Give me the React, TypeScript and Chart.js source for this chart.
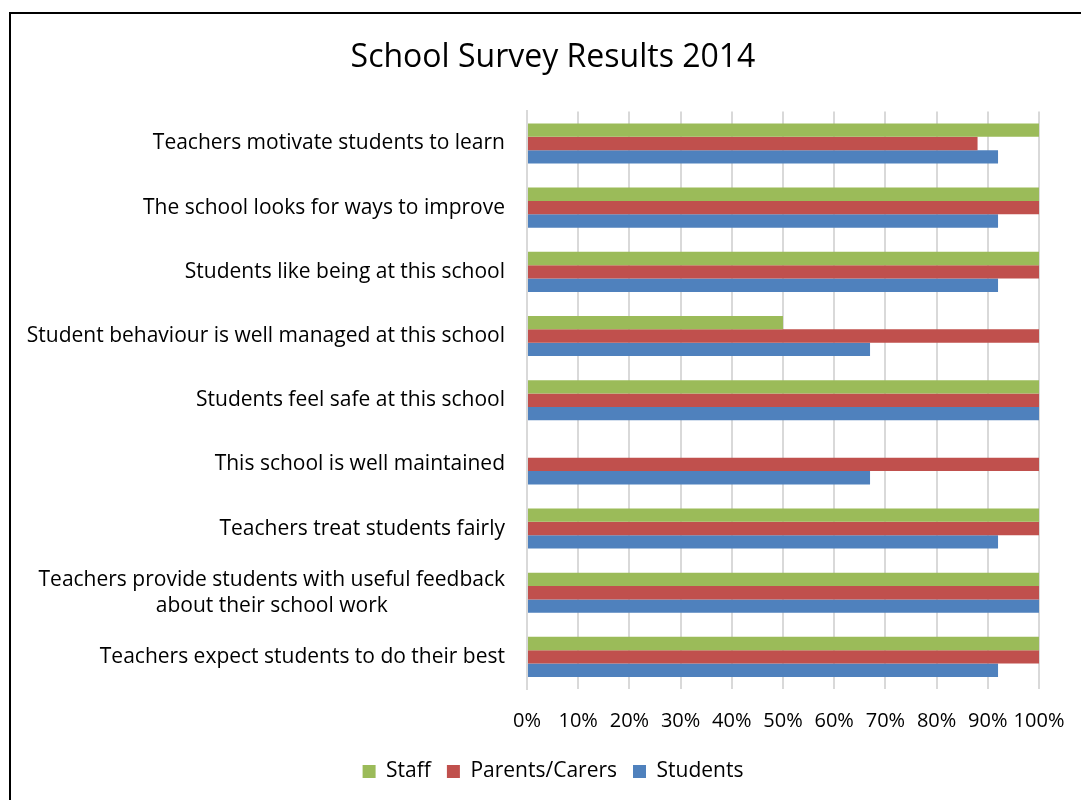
import React, { useEffect, useRef } from "react";
import { Chart, registerables } from "chart.js";

Chart.register(...registerables);

const FONT = "'Open Sans', Lato, sans-serif";

const categories: (string | string[])[] = [
  "Teachers motivate students to learn",
  "The school looks for ways to improve",
  "Students like being at this school",
  "Student behaviour is well managed at this school",
  "Students feel safe at this school",
  "This school is well maintained",
  "Teachers treat students fairly",
  ["Teachers provide students with useful feedback", "about their school work"],
  "Teachers expect students to do their best",
];

const staff = [100, 100, 100, 50, 100, 0, 100, 100, 100];
const parents = [88, 100, 100, 100, 100, 100, 100, 100, 100];
const students = [92, 92, 92, 67, 100, 67, 92, 100, 92];

const xTicks = [0, 10, 20, 30, 40, 50, 60, 70, 80, 90, 100];

const LABEL_SIZE = 21;

const yLabelPlugin = {
  id: "yLabelsCentered",
  afterDraw(chart: any) {
    const { ctx, chartArea } = chart;
    const yScale = chart.scales.y;
    ctx.save();
    ctx.font = `${LABEL_SIZE}px ${FONT}`;
    ctx.fillStyle = "#000";
    ctx.textBaseline = "middle";
    ctx.textAlign = "center";
    categories.forEach((lab, i) => {
      const lines = Array.isArray(lab) ? lab : [lab];
      const bw = Math.max(...lines.map((l) => ctx.measureText(l).width));
      const cx = chartArea.left - 22 - bw / 2;
      const cy = yScale.getPixelForValue(i);
      const lh = 26;
      lines.forEach((l, j) => {
        ctx.fillText(l, cx, cy + (j - (lines.length - 1) / 2) * lh);
      });
    });
    ctx.restore();
  },
};

export default function App() {
  const ref = useRef<HTMLCanvasElement>(null);

  useEffect(() => {
    if (!ref.current) return;
    const chart = new Chart(ref.current, {
      type: "bar",
      data: {
        labels: categories as any,
        datasets: [
          { label: "Staff", data: staff, backgroundColor: "#9bbb59", borderWidth: 0 },
          { label: "Parents/Carers", data: parents, backgroundColor: "#c0504d", borderWidth: 0 },
          { label: "Students", data: students, backgroundColor: "#4f81bd", borderWidth: 0 },
        ],
      },
      options: {
        indexAxis: "y",
        responsive: false,
        animation: false,
        events: [],
        datasets: {
          bar: { barPercentage: 1, categoryPercentage: 0.625 },
        },
        layout: { padding: { left: 56, right: 58, top: 0, bottom: 22 } },
        scales: {
          x: {
            min: 0,
            max: 100,
            afterBuildTicks: (scale: any) => {
              scale.ticks = xTicks.map((v) => ({ value: v }));
            },
            afterFit: (scale: any) => {
              scale.height = 56;
            },
            ticks: {
              callback: (v: any) => `${v}%`,
              font: { family: FONT, size: 20 },
              color: "#000",
              padding: 20,
              maxRotation: 0,
              autoSkip: false,
            },
            grid: { color: "#d9d9d9", lineWidth: 2, drawTicks: false },
            border: { display: false },
          },
          y: {
            ticks: { display: false },
            grid: { display: false, drawTicks: false },
            border: { display: true, color: "#d9d9d9", width: 2 },
            afterFit: (scale: any) => {
              scale.width = 460;
            },
          },
        },
        plugins: {
          title: {
            display: true,
            text: "School Survey Results 2014",
            font: { family: FONT, size: 32, weight: "normal" },
            color: "#000",
            padding: { top: 25, bottom: 34 },
          },
          legend: {
            position: "bottom",
            labels: {
              font: { family: FONT, size: 21 },
              color: "#000",
              boxWidth: 13,
              boxHeight: 13,
              padding: 16,
            },
          },
          tooltip: { enabled: false },
        },
      },
      plugins: [yLabelPlugin],
    } as any);
    return () => chart.destroy();
  }, []);

  return (
    <>
      <div
        style={{
          position: "fixed",
          left: 9,
          top: 12,
          width: 1200,
          height: 1000,
          border: "2px solid #000",
          boxSizing: "border-box",
          background: "#fff",
        }}
      />
      <canvas
        ref={ref}
        width={1086}
        height={800}
        style={{ position: "fixed", left: 11, top: 14, width: 1086, height: 800 }}
      />
    </>
  );
}
